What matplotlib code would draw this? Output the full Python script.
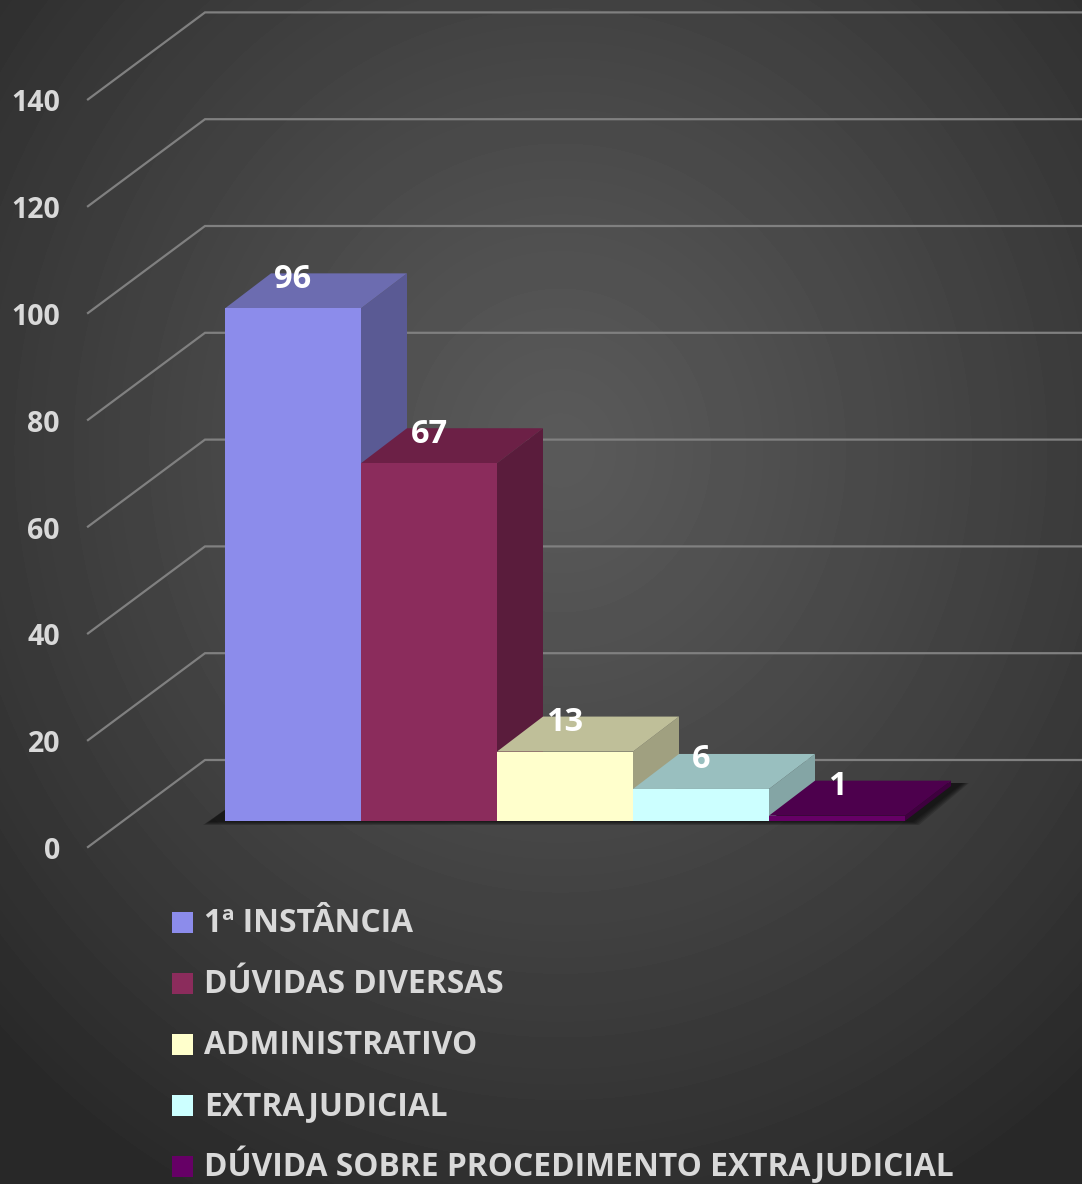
import numpy as np
import matplotlib
matplotlib.use("Agg")
import matplotlib.pyplot as plt
from matplotlib.patches import Polygon, Rectangle

categories = ["1ª INSTÂNCIA", "DÚVIDAS DIVERSAS", "ADMINISTRATIVO", "EXTRAJUDICIAL",
              "DÚVIDA SOBRE PROCEDIMENTO EXTRAJUDICIAL"]
values = [96, 67, 13, 6, 1]
front_colors = ["#8C8CEB", "#8B2C5C", "#FFFFCC", "#CCFFFF", "#660066"]
top_colors = ["#6C6CB0", "#6C2046", "#BFBF99", "#99BFBF", "#4D004D"]
side_colors = ["#5A5A94", "#5A1C3C", "#A0A080", "#84A5A5", "#3F003F"]
y_ticks = [0, 20, 40, 60, 80, 100, 120, 140]

W, H = 1082, 1184
PX_X = 136.0            # pixels per category
PX_Y = 5.34             # pixels per value unit
FONT = "Open Sans"
LIGHT = "#D9D9D9"

fig = plt.figure(figsize=(W / 100, H / 100), dpi=100)

# background gradient
bg = fig.add_axes([0, 0, 1, 1], zorder=0)
yy, xx = np.mgrid[0:H, 0:W]
r = np.sqrt(((xx - 560) / 800.0) ** 2 + ((yy - 450) / 860.0) ** 2)
shade = 90 - 50 * r ** 1.15
bg.imshow(np.clip(shade, 40, 92), cmap="gray", vmin=0, vmax=255, aspect="auto",
          extent=(0, W, H, 0), interpolation="bilinear")
bg.axis("off")

ax = fig.add_axes([0, 0, 1, 1], zorder=1)
ax.patch.set_alpha(0)
ax.set_xlim(-293 / PX_X, (W - 293) / PX_X)
ax.set_ylim((821 - H) / PX_Y, 821 / PX_Y)
ax.axis("off")

# offsets of the projected 3D box, in data units
bar_dx, bar_dy = 46 / PX_X, 35 / PX_Y
wall_front_x, wall_back_x = (88 - 293) / PX_X, (205 - 293) / PX_X
wall_front_dy, wall_back_dy = (821 - 847) / PX_Y, (821 - 760) / PX_Y
right_edge = ax.get_xlim()[1]
GRID = "#808080"

for t in y_ticks:
    ax.plot([wall_front_x, wall_back_x, right_edge],
            [t + wall_front_dy, t + wall_back_dy, t + wall_back_dy],
            color=GRID, lw=1.6, zorder=1, solid_joinstyle="miter")
    ax.text(wall_front_x - 28 / PX_X, t + wall_front_dy - 1 / PX_Y, str(t), ha="right",
            va="center_baseline", color=LIGHT, fontsize=20.5, fontweight="bold", family=FONT,
            zorder=5)

# soft floor shadow
n = len(values)
x0, x1 = -0.5, n - 0.5
for g in [6, 4.5, 3, 1.5, 0]:
    sx, sy = g / PX_X, g / PX_Y
    ax.add_patch(Polygon([(x0 - 16 / PX_X - sx, -1 / PX_Y - sy * 0.5),
                          (x1 + 8 / PX_X + sx, -1 / PX_Y - sy * 0.5),
                          (x1 + 58 / PX_X + sx, 38 / PX_Y),
                          (x1 + 30 / PX_X, 38 / PX_Y),
                          (x0 + 4 / PX_X, 14 / PX_Y)],
                         closed=True, fc="black", ec="none", alpha=0.16, zorder=2))

# bars
for i, (v, fc, tc, sc) in enumerate(zip(values, front_colors, top_colors, side_colors)):
    l, rr = i - 0.5, i + 0.5
    ax.add_patch(Polygon([(rr, 0), (rr + bar_dx, bar_dy), (rr + bar_dx, v + bar_dy), (rr, v)],
                         fc=sc, ec="none", zorder=3 + i * 0.01))
    ax.add_patch(Polygon([(l, v), (rr, v), (rr + bar_dx, v + bar_dy), (l + bar_dx, v + bar_dy)],
                         fc=tc, ec="none", zorder=3 + i * 0.01))
    ax.bar(i, v, width=1.0, color=fc, edgecolor="none", zorder=3 + i * 0.01 + 0.001)
    ax.text(i, v + 33 / PX_Y, str(v), ha="center", va="center_baseline", color="white",
            fontsize=23.5, fontweight="bold", family=FONT, zorder=6)

# legend, evenly spaced rows
for i, (name, c) in enumerate(zip(categories, front_colors)):
    yc = 922 + i * 61.0
    fig.add_artist(Rectangle((172 / W, 1 - (yc + 10.5) / H), 21 / W, 21 / H, fc=c, ec="none",
                             transform=fig.transFigure, zorder=7))
    fig.text(204 / W, 1 - (yc + 10) / H, name, ha="left", va="baseline", color=LIGHT,
             fontsize=22.9, fontweight="bold", family=FONT, zorder=7)

fig.savefig("out.png", dpi=100)
